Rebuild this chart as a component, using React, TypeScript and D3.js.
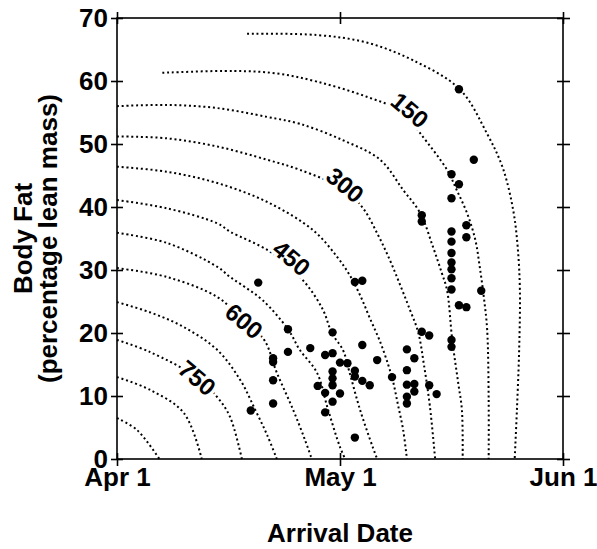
import React from 'react'
import * as d3 from 'd3'

// arrival day counted from Apr 1 and body fat (% of lean mass), one entry per bird
const arrivalDay = [46, 48, 45, 46, 45, 41, 41, 47, 45, 47, 45, 45, 45, 45, 45, 45, 49, 46, 47, 41, 42, 45, 45, 39, 40, 39, 37, 39, 40, 42, 40, 43, 39, 39, 32, 33, 19, 23, 29, 33, 26, 23, 28, 29, 21, 21, 35, 30, 31, 29, 32, 29, 32, 21, 33, 34, 29, 27, 28, 30, 29, 21, 18, 28, 32]
const bodyFat = [58.7, 47.5, 45.2, 43.6, 41.4, 38.7, 37.7, 37.1, 36.1, 35.2, 34.5, 32.7, 31.2, 30.1, 28.7, 26.9, 26.7, 24.4, 24.1, 20.2, 19.6, 18.9, 17.8, 17.4, 16.0, 14.1, 13.0, 11.8, 11.9, 11.7, 10.7, 10.3, 9.9, 8.8, 28.1, 28.3, 28.0, 20.6, 20.1, 18.1, 17.6, 17.0, 16.5, 16.8, 16.0, 15.4, 15.7, 15.3, 15.2, 13.9, 14.0, 12.8, 13.1, 12.5, 12.4, 11.7, 11.7, 11.6, 10.5, 10.4, 9.1, 8.8, 7.7, 7.4, 3.4]

// isolines, [day, fat] points
const contourLevels = [75, 150, 225, 300, 375, 450, 525, 600, 675, 750, 825, 900]
const contourPaths: [number, number][][] = [
  [[17.5, 67.5], [26.9, 67.3], [33.6, 66.1], [39.8, 63.3], [46.1, 58.7], [49.8, 51.6], [51.9, 46.2], [53.3, 39.5], [53.9, 33.7], [54.2, 26.8], [54.1, 17.3], [53.8, 7.8], [53.5, 0]],
  [[6.1, 61.3], [15.7, 61.6], [21.5, 61.2], [26.9, 59.9], [33.6, 57.5], [38.7, 54.9], [40.8, 51.7], [44.4, 45.9], [45.7, 42.7], [47.1, 39.0], [48.2, 34.8], [48.8, 30.5], [49.4, 25.2], [49.8, 20.5], [50.0, 9.4], [50.0, 0]],
  [[0, 56.0], [6.7, 56.2], [13.5, 55.7], [20.2, 54.3], [24.6, 53.2], [30.4, 50.6], [35.4, 47.5], [38.5, 42.7], [40.8, 39.0], [42.5, 33.7], [43.7, 29.5], [44.4, 26.8], [45.1, 18.9], [45.9, 12.1], [46.4, 7.8], [46.5, 0]],
  [[0, 51.2], [6.7, 50.9], [13.5, 49.6], [20.2, 47.5], [24.6, 45.9], [30.7, 42.7], [33.1, 39.8], [35.1, 35.6], [36.7, 31.6], [38.1, 27.6], [39.4, 23.7], [40.5, 20.2], [41.3, 14.9], [42.1, 8.3], [42.8, 0]],
  [[0, 46.4], [6.7, 45.6], [13.5, 43.8], [20.2, 40.8], [26.4, 36.3], [29.6, 32.1], [31.3, 29.2], [32.7, 26.0], [34.0, 22.4], [35.4, 18.6], [36.5, 14.9], [37.1, 12.5], [37.8, 8.6], [38.5, 4.6], [39.0, 0]],
  [[0, 41.1], [6.7, 39.8], [13.5, 37.4], [15.2, 36.1], [20.6, 32.9], [25.0, 28.4], [27.7, 23.7], [28.9, 20.0], [30.4, 17.3], [31.2, 14.1], [32.7, 7.8], [34.4, 1.9], [35.0, 0]],
  [[0, 35.9], [6.7, 34.3], [13.5, 30.5], [15.2, 28.9], [17.2, 27.3], [19.6, 25.2], [23.0, 20.6], [24.6, 17.3], [26.9, 13.7], [28.4, 7.8], [30.0, 1.9], [30.7, 0]],
  [[0, 30.3], [6.7, 28.9], [13.5, 25.7], [17.1, 21.9], [19.8, 18.9], [21.5, 13.7], [23.7, 7.8], [25.3, 3.0], [26.2, 0]],
  [[0, 24.9], [4.4, 23.3], [8.9, 21.0], [13.5, 17.3], [16.6, 12.5], [18.6, 7.8], [20.2, 3.8], [21.5, 0]],
  [[0, 18.9], [4.4, 17.0], [10.8, 12.9], [13.5, 9.8], [15.2, 6.7], [16.8, 0]],
  [[0, 13.0], [4.4, 11.0], [9.0, 7.3], [11.4, 0]],
  [[0, 6.5], [2.7, 4.6], [5.7, 0]],
]

// labelled isolines and where the label sits
const labelLevels = [150, 300, 450, 600, 750]
const labelDay = [39.4, 30.7, 23.5, 17.1, 10.8]
const labelFat = [55.4, 43.5, 31.9, 21.9, 12.9]

const xTickDays = [0, 30, 60]
const xTickLabels = ['Apr 1', 'May 1', 'Jun 1']
const yTicks = [0, 10, 20, 30, 40, 50, 60, 70]

const FONT = '"Liberation Sans", Arial, Helvetica, sans-serif'

class FatChart extends React.Component {
  svgEl: SVGSVGElement | null = null

  componentDidMount() {
    this.draw()
  }

  draw() {
    const width = 597
    const height = 549
    const margin = { top: 18, right: 34, bottom: 90, left: 117 }
    const svg = d3.select(this.svgEl)
    svg.selectAll('*').remove()

    const x = d3.scaleLinear().domain([0, 60]).range([margin.left, width - margin.right])
    const y = d3.scaleLinear().domain([0, 70]).range([height - margin.bottom, margin.top])
    const x0 = x.range()[0], x1 = x.range()[1]
    const y0 = y.range()[0], y1 = y.range()[1]

    // dotted isolines
    const line = d3.line<[number, number]>()
      .x(d => x(d[0]))
      .y(d => y(d[1]))
      .curve(d3.curveCatmullRom.alpha(0.5))
    svg.append('g')
      .selectAll('path')
      .data(contourPaths)
      .join('path')
      .attr('class', (d, i) => 'iso-' + contourLevels[i])
      .attr('d', d => line(d))
      .attr('fill', 'none')
      .attr('stroke', '#000')
      .attr('stroke-width', 2)
      .attr('stroke-dasharray', '2 2.8')

    // isoline labels, white halo cuts the dotted line
    svg.append('g')
      .selectAll('text')
      .data(labelLevels)
      .join('text')
      .attr('transform', (d, i) => `translate(${x(labelDay[i])},${y(labelFat[i])}) rotate(40)`)
      .attr('text-anchor', 'middle')
      .attr('dy', '0.36em')
      .attr('font-family', FONT)
      .attr('font-weight', 'bold')
      .attr('font-size', 24)
      .attr('fill', '#000')
      .attr('stroke', '#fff')
      .attr('stroke-width', 7)
      .attr('paint-order', 'stroke')
      .text(d => d)

    // birds
    svg.append('g')
      .selectAll('circle')
      .data(arrivalDay)
      .join('circle')
      .attr('cx', d => x(d))
      .attr('cy', (d, i) => y(bodyFat[i]))
      .attr('r', 4.2)
      .attr('fill', '#000')

    // frame
    svg.append('rect')
      .attr('x', x0).attr('y', y1)
      .attr('width', x1 - x0).attr('height', y0 - y1)
      .attr('fill', 'none').attr('stroke', '#000').attr('stroke-width', 1.6)

    // crossing ticks: one axis per side of each frame edge
    const styleAxis = (g: any) => {
      g.select('.domain').remove()
      g.selectAll('line').attr('stroke', '#000').attr('stroke-width', 1.6)
      g.attr('font-family', FONT).attr('font-weight', 'bold').attr('font-size', 26)
      g.selectAll('text').attr('fill', '#000')
    }
    svg.append('g').attr('transform', `translate(${x0},0)`)
      .call(d3.axisLeft(y).tickValues(yTicks).tickSize(6).tickPadding(3).tickFormat(d3.format('d')))
      .call(styleAxis)
    svg.append('g').attr('transform', `translate(${x0},0)`)
      .call(d3.axisRight(y).tickValues(yTicks).tickSize(6).tickFormat(() => ''))
      .call(styleAxis)
    svg.append('g').attr('transform', `translate(${x1},0)`)
      .call(d3.axisRight(y).tickValues(yTicks).tickSize(7).tickFormat(() => ''))
      .call(styleAxis)
    svg.append('g').attr('transform', `translate(${x1},0)`)
      .call(d3.axisLeft(y).tickValues(yTicks).tickSize(6).tickFormat(() => ''))
      .call(styleAxis)
    svg.append('g').attr('transform', `translate(0,${y0})`)
      .call(d3.axisBottom(x).tickValues(xTickDays).tickSize(7).tickPadding(2).tickFormat((d, i) => xTickLabels[i]))
      .call(styleAxis)
    svg.append('g').attr('transform', `translate(0,${y0})`)
      .call(d3.axisTop(x).tickValues(xTickDays).tickSize(6).tickFormat(() => ''))
      .call(styleAxis)
    svg.append('g').attr('transform', `translate(0,${y1})`)
      .call(d3.axisTop(x).tickValues(xTickDays).tickSize(6).tickFormat(() => ''))
      .call(styleAxis)
    svg.append('g').attr('transform', `translate(0,${y1})`)
      .call(d3.axisBottom(x).tickValues(xTickDays).tickSize(6).tickFormat(() => ''))
      .call(styleAxis)

    // axis titles
    svg.append('text')
      .attr('x', x(30)).attr('y', 542)
      .attr('text-anchor', 'middle')
      .attr('font-family', FONT).attr('font-weight', 'bold').attr('font-size', 26)
      .text('Arrival Date')
    const ym = (y0 + y1) / 2
    svg.append('text')
      .attr('transform', `translate(32,${ym}) rotate(-90)`)
      .attr('text-anchor', 'middle')
      .attr('font-family', FONT).attr('font-weight', 'bold').attr('font-size', 26)
      .text('Body Fat')
    svg.append('text')
      .attr('transform', `translate(57,${ym}) rotate(-90)`)
      .attr('text-anchor', 'middle')
      .attr('font-family', FONT).attr('font-weight', 'bold').attr('font-size', 26)
      .text('(percentage lean mass)')
  }

  render() {
    return (
      <svg
        ref={r => { this.svgEl = r }}
        width={597}
        height={549}
        style={{ position: 'absolute', left: 0, top: 0, background: '#fff' }}
      />
    )
  }
}

export default function App() {
  return <FatChart />
}
